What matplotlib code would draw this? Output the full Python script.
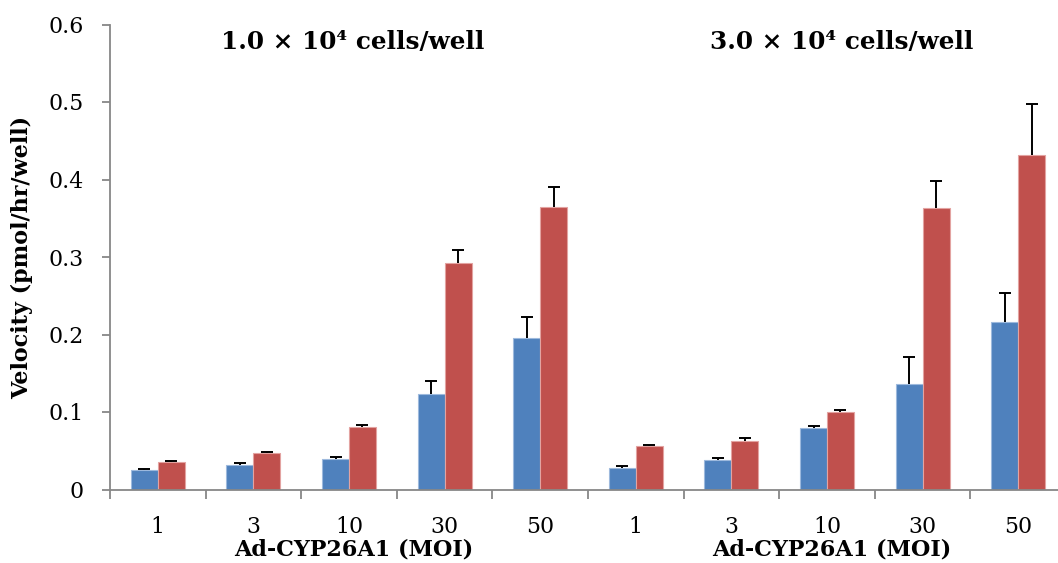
import matplotlib
matplotlib.use("Agg")
import matplotlib.pyplot as plt
import numpy as np

moi_labels = ["1", "3", "10", "30", "50", "1", "3", "10", "30", "50"]
blue_vals = [0.025, 0.032, 0.040, 0.123, 0.196, 0.028, 0.038, 0.079, 0.136, 0.216]
blue_err = [0.0017, 0.002, 0.002, 0.017, 0.026, 0.0017, 0.003, 0.003, 0.035, 0.037]
red_vals = [0.035, 0.047, 0.081, 0.292, 0.364, 0.056, 0.063, 0.0995, 0.363, 0.432]
red_err = [0.0016, 0.002, 0.0016, 0.017, 0.026, 0.002, 0.003, 0.003, 0.035, 0.066]
group_titles = ["1.0 × 10⁴ cells/well", "3.0 × 10⁴ cells/well"]
xlabel_text = "Ad-CYP26A1 (MOI)"
ylabel_text = "Velocity (pmol/hr/well)"
yticks = [0, 0.1, 0.2, 0.3, 0.4, 0.5, 0.6]
ytick_labels = ["0", "0.1", "0.2", "0.3", "0.4", "0.5", "0.6"]

plt.rcParams['font.family'] = ['DejaVu Serif']

W, H = 1058, 563
fig = plt.figure(figsize=(W / 100, H / 100), dpi=100)
ax = fig.add_axes([110 / W, 1 - 489.5 / H, (1066 - 110) / W, (489.5 - 24.5) / H])

x = np.arange(len(moi_labels))
bw = 0.282
blue = "#4F81BD"
red = "#C0504D"
ekw = dict(ecolor="black", elinewidth=1.4, capthick=1.4)
bc1 = ax.bar(x - bw / 2, blue_vals, bw, color=blue, edgecolor="#9DB9DD", linewidth=0.8,
             yerr=[np.zeros(len(blue_err)), blue_err], capsize=4.3, error_kw=ekw, zorder=2)
bc2 = ax.bar(x + bw / 2, red_vals, bw, color=red, edgecolor="#E3A3A1", linewidth=0.8,
             yerr=[np.zeros(len(red_err)), red_err], capsize=4.3, error_kw=ekw, zorder=2)
for bc in (bc1, bc2):
    caps = bc.errorbar.lines[1]
    if len(caps) > 1:
        caps[0].set_visible(False)

ax.set_xlim(-0.5, len(moi_labels) - 0.5)
ax.set_ylim(0, 0.6)
ax.set_yticks(yticks)
ax.set_yticklabels(ytick_labels, fontsize=15.8)
ax.set_xticks(x)
ax.set_xticklabels(moi_labels, fontsize=15.8)
ax.set_xticks(np.arange(-0.5, len(moi_labels)), minor=True)
spine_c = "#878787"
ax.tick_params(axis="x", which="major", length=0, pad=19)
ax.tick_params(axis="x", which="minor", length=6.5, width=1.3, color=spine_c, direction="out")
ax.tick_params(axis="y", which="major", length=5.8, width=1.3, color=spine_c, direction="out", pad=13)
for s in ["top", "right"]:
    ax.spines[s].set_visible(False)
for s in ["left", "bottom"]:
    ax.spines[s].set_color(spine_c)
    ax.spines[s].set_linewidth(1.3)

fig.text(22 / W, 1 - 257 / H, ylabel_text, rotation=90, ha="center", va="center",
         fontsize=16, fontweight="bold")

half = len(moi_labels) / 2
title_dx = [0.04, 0.15]
for i, t in enumerate(group_titles):
    cx = -0.5 + half * i + half / 2
    ax.text(cx + title_dx[i], 0.577, t, ha="center", va="center", fontsize=17.8, fontweight="bold")
    ax.text(cx + 0.05, -0.078, xlabel_text, ha="center", va="center", fontsize=16,
            fontweight="bold", clip_on=False)

fig.savefig("out.png", dpi=100)
